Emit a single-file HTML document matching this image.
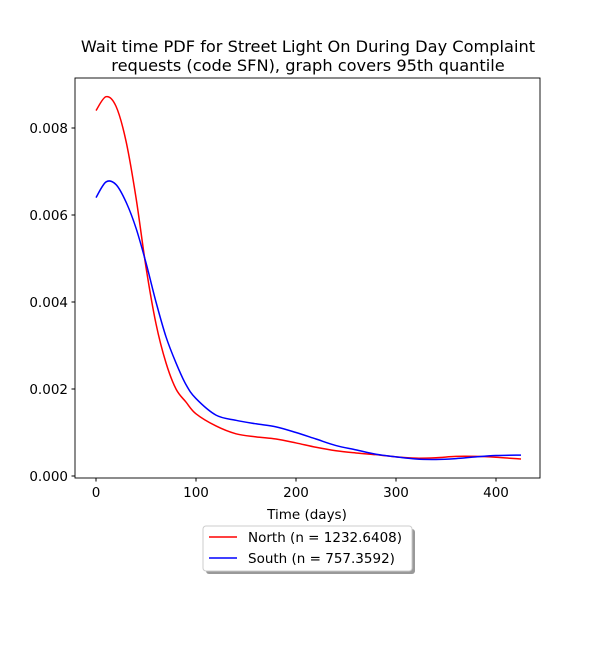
<!DOCTYPE html>
<html><head><meta charset="utf-8"><style>
body{margin:0;background:#fff;}
svg text{font-family:"DejaVu Sans","Liberation Sans",sans-serif;fill:#000;}
</style></head><body>
<svg width="600" height="650" xmlns="http://www.w3.org/2000/svg">
<rect width="600" height="650" fill="#fff"/>
<text x="308" y="52" font-size="16.2" text-anchor="middle">Wait time PDF for Street Light On During Day Complaint</text>
<text x="308" y="71" font-size="16.2" text-anchor="middle">requests (code SFN), graph covers 95th quantile</text>
<g id="ticks"></g>
<g id="lines"></g>
<rect x="75" y="78" width="465" height="400" fill="none" stroke="#000" stroke-width="0.9"/>
<text x="307" y="519" font-size="13.5" text-anchor="middle">Time (days)</text>
<g>
<rect x="206" y="529" width="209" height="45" rx="3" fill="#555" opacity="0.6"/>
<rect x="203" y="526" width="209" height="45" rx="3" fill="#fff" stroke="#ccc"/>
<line x1="209" y1="537" x2="237" y2="537" stroke="red" stroke-width="1.5"/>
<text x="248" y="542" font-size="13.5">North (n = 1232.6408)</text>
<line x1="209" y1="558" x2="237" y2="558" stroke="blue" stroke-width="1.5"/>
<text x="248" y="563" font-size="13.5">South (n = 757.3592)</text>
</g>
</svg>
<script>
const xs=[0,10,20,30,40,50,60,70,80,90,100,120,140,160,180,200,220,240,260,280,300,320,340,360,380,400,425];
const north=[0.0084,0.00872,0.0085,0.0077,0.0064,0.0048,0.0035,0.0026,0.0020,0.0017,0.00143,0.00115,0.00097,0.0009,0.00085,0.00076,0.00066,0.00058,0.00053,0.00049,0.00044,0.00041,0.00042,0.00045,0.00045,0.00043,0.00039];
const south=[0.0064,0.00676,0.0067,0.0063,0.0057,0.0049,0.0040,0.0032,0.0026,0.0021,0.00178,0.0014,0.00128,0.0012,0.00113,0.001,0.00085,0.0007,0.0006,0.0005,0.00044,0.00039,0.00038,0.0004,0.00044,0.00047,0.00048];
const xTicks=[0,100,200,300,400];
const yTicks=[0,0.002,0.004,0.006,0.008];
const NS="http://www.w3.org/2000/svg";
const X=v=>96+v*1.0;
const Y=v=>476-v*43500;
const tg=document.getElementById('ticks');
xTicks.forEach(t=>{
 const l=document.createElementNS(NS,'line');
 l.setAttribute('x1',X(t));l.setAttribute('x2',X(t));l.setAttribute('y1',478);l.setAttribute('y2',481.5);l.setAttribute('stroke','#000');
 
 
 tg.appendChild(l);
 const s=document.createElementNS(NS,'text');
 s.setAttribute('x',X(t));s.setAttribute('y',497);s.setAttribute('font-size','13.5');s.setAttribute('text-anchor','middle');s.textContent=t;
 
 
 tg.appendChild(s);
});
yTicks.forEach(t=>{
 const l=document.createElementNS(NS,'line');
 l.setAttribute('x1',71.5);l.setAttribute('x2',75);l.setAttribute('y1',Y(t));l.setAttribute('y2',Y(t));l.setAttribute('stroke','#000');
 
 
 tg.appendChild(l);
 const s=document.createElementNS(NS,'text');
 s.setAttribute('x',68);s.setAttribute('y',Y(t)+5);s.setAttribute('font-size','13.5');s.setAttribute('text-anchor','end');s.textContent=t.toFixed(3);
 
 
 tg.appendChild(s);
});
function path(vals){
 const p=xs.map((x,i)=>[X(x),Y(vals[i])]);
 let d='M'+p[0][0]+','+p[0][1];
 for(let i=0;i<p.length-1;i++){
  const p0=p[i-1]||p[i],p1=p[i],p2=p[i+1],p3=p[i+2]||p2;
  const c1=[p1[0]+(p2[0]-p0[0])/6,p1[1]+(p2[1]-p0[1])/6];
  const c2=[p2[0]-(p3[0]-p1[0])/6,p2[1]-(p3[1]-p1[1])/6];
  d+=' C'+c1+' '+c2+' '+p2;
 }
 return d;
}
const lg=document.getElementById('lines');
[[north,'red','north-line'],[south,'blue','south-line']].forEach(([v,c,n])=>{
 const e=document.createElementNS(NS,'path');
 e.setAttribute('d',path(v));e.setAttribute('fill','none');e.setAttribute('stroke',c);e.setAttribute('stroke-width','1.5');
 
 
 lg.appendChild(e);
});
</script>
</body></html>
